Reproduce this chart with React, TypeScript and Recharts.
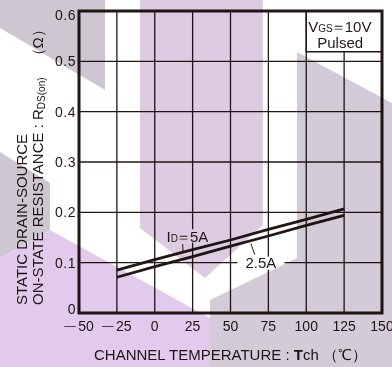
import React from "react";
import {
  LineChart,
  Line,
  XAxis,
  YAxis,
  CartesianGrid,
  ReferenceArea,
  ReferenceDot,
  ReferenceLine,
} from "recharts";

// channel temperature (°C) and on-state resistance (Ω)
const temps = [-25, 0, 25, 50, 75, 100, 125];
const rds5A = [0.085, 0.106, 0.126, 0.145, 0.166, 0.186, 0.207];
const rds2p5A = [0.071, 0.092, 0.112, 0.133, 0.153, 0.174, 0.194];

const xTicks = [-50, -25, 0, 25, 50, 75, 100, 125, 150];
const yTicks = [0, 0.1, 0.2, 0.3, 0.4, 0.5, 0.6];

const rows = temps.map((t, i) => ({ t, a: rds5A[i], b: rds2p5A[i] }));

const INK = "#231815";
const FONT = '"Liberation Sans", Arial, Helvetica, sans-serif';

const XTick = (props: any) => {
  const { x, y, payload } = props;
  const v = payload.value;
  const base = y + 10;
  return (
    <text x={x} y={base} textAnchor="middle" fontSize={14} fill={INK} fontFamily={FONT}>
      {v < 0 ? (
        <>
          <tspan fontSize={11.5} dy={-2}>—</tspan>
          <tspan dx={2.5} dy={2}>{Math.abs(v)}</tspan>
        </>
      ) : (
        String(v)
      )}
    </text>
  );
};

const YTick = (props: any) => {
  const { x, y, payload } = props;
  const v = payload.value;
  let shift = 0;
  if (v === 0.6) shift = 4;
  if (v === 0) shift = -4;
  return (
    <text x={x} y={y + shift} dy="0.355em" textAnchor="end" fontSize={14} letterSpacing={0.5} fill={INK} fontFamily={FONT}>
      {v === 0 ? "0" : v.toFixed(1)}
    </text>
  );
};

const XTitle = (props: any) => {
  const vb = props.viewBox || { x: 79, y: 313, width: 303 };
  return (
    <text x={vb.x + vb.width / 2} y={vb.y + 47} textAnchor="middle" fontSize={15} fill={INK} fontFamily={FONT}>
      CHANNEL TEMPERATURE : <tspan fontWeight={700}>T</tspan>ch （℃）
    </text>
  );
};

const YTitle = (props: any) => {
  const vb = props.viewBox || { x: 0, y: 11, height: 302 };
  const base = vb.y + vb.height - 8;
  return (
    <g fontSize={15} fill={INK} fontFamily={FONT}>
      <text transform={`translate(26.5,${base}) rotate(-90)`} textAnchor="start">
        STATIC DRAIN-SOURCE
      </text>
      <text transform={`translate(43,${base}) rotate(-90)`} textAnchor="start">
        ON-STATE RESISTANCE : R
        <tspan fontSize={10} dy={2}>DS(on)</tspan>
        <tspan dy={-2} dx={14}>（Ω）</tspan>
      </text>
    </g>
  );
};

const CondText = (props: any) => {
  const { cx, cy } = props;
  return (
    <g fontSize={15} fill={INK} fontFamily={FONT}>
      <text x={cx + 2} y={cy + 21}>
        V<tspan fontSize={10}>GS</tspan>
        <tspan dx={-1.5}>＝</tspan>
        <tspan dx={-1.5}>10V</tspan>
      </text>
      <text x={cx + 11} y={cy + 37}>Pulsed</text>
    </g>
  );
};

const Label5A = (props: any) => {
  const { cx, cy } = props;
  return (
    <g>
      <rect x={cx - 24} y={cy - 7.5} width={47} height={13.5} fill="#fff" />
      <text x={cx} y={cy + 5} textAnchor="middle" fontSize={15} fill={INK} fontFamily={FONT}>
        I<tspan fontSize={10}>D</tspan>
        <tspan dx={-1.5}>＝</tspan>
        <tspan dx={-1.5}>5A</tspan>
      </text>
    </g>
  );
};

const Label2p5A = (props: any) => {
  const { cx, cy } = props;
  return (
    <g>
      <rect x={cx - 23.5} y={cy - 6} width={47} height={13} fill="#fff" />
      <text x={cx} y={cy + 5.5} textAnchor="middle" fontSize={15} fill={INK} fontFamily={FONT}>
        2.5A
      </text>
    </g>
  );
};

// watermark shapes of the scanned sheet, multiplied over the chart
const Watermark = () => (
  <svg
    width={392}
    height={367}
    style={{ position: "absolute", left: 0, top: 0, mixBlendMode: "multiply", pointerEvents: "none" }}
  >
    <polygon points="0,0 105,0 105,90 0,28" fill="#cec7d2" />
    <polygon points="0,152 50,183 50,230 0,258" fill="#cec7d2" />
    <polygon points="140,0 263,0 263,225 205,278 140,228" fill="#dccbe1" />
    <polygon points="297,52 392,103 392,367 210,367 210,300 297,258" fill="#d3cbd8" />
    <polygon points="0,258 50,230 210,318 210,367 0,367" fill="#e1caeb" />
  </svg>
);

export default function App() {
  return (
    <div style={{ position: "absolute", left: 0, top: 0, width: 392, height: 367, background: "#fff" }}>
      <LineChart width={392} height={367} data={rows} margin={{ top: 11, right: 10, bottom: 24, left: 0 }}>
        <CartesianGrid stroke={INK} strokeWidth={1.3} />
        <XAxis
          dataKey="t"
          type="number"
          domain={[-50, 150]}
          ticks={xTicks}
          interval={0}
          height={30}
          axisLine={false}
          tickLine={false}
          tickSize={6}
          tickMargin={2}
          tick={<XTick />}
          label={<XTitle />}
        />
        <YAxis
          type="number"
          domain={[0, 0.6]}
          ticks={yTicks}
          interval={0}
          width={79}
          axisLine={false}
          tickLine={false}
          tickSize={0}
          tickMargin={3}
          tick={<YTick />}
          label={<YTitle />}
        />
        <Line type="linear" dataKey="a" stroke={INK} strokeWidth={2.8} dot={false} isAnimationActive={false} />
        <Line type="linear" dataKey="b" stroke={INK} strokeWidth={2.8} dot={false} isAnimationActive={false} />
        <ReferenceLine segment={[{ x: 18.4, y: 0.137 }, { x: 18.7, y: 0.123 }]} stroke={INK} strokeWidth={1} />
        <ReferenceLine segment={[{ x: 63.5, y: 0.138 }, { x: 66, y: 0.116 }]} stroke={INK} strokeWidth={1} />
        <ReferenceDot x={21.6} y={0.1516} r={0} shape={<Label5A />} />
        <ReferenceDot x={70.1} y={0.1} r={0} shape={<Label2p5A />} />
        <ReferenceArea
          x1={100}
          x2={150}
          y1={0.519}
          y2={0.6}
          fill="#fff"
          fillOpacity={1}
          stroke={INK}
          strokeWidth={1.5}
        />
        <ReferenceDot x={100} y={0.6} r={0} shape={<CondText />} ifOverflow="visible" />
        <ReferenceArea
          x1={-50}
          x2={150}
          y1={0}
          y2={0.6}
          fill="none"
          stroke={INK}
          strokeWidth={3}
          ifOverflow="visible"
        />
      </LineChart>
      <Watermark />
    </div>
  );
}
